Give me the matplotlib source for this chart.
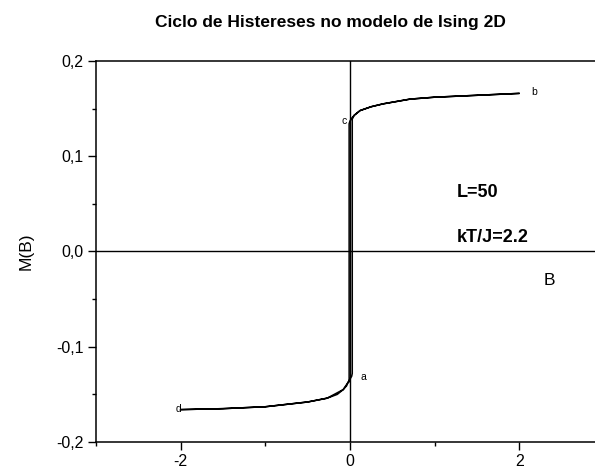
import matplotlib
matplotlib.use("Agg")
import matplotlib.pyplot as plt
from matplotlib.ticker import FuncFormatter, MultipleLocator

plt.rcParams['font.family'] = ['Liberation Sans', 'DejaVu Sans']

# campo aplicado B e magnetizacao M ao longo do ciclo d -> a -> c -> b -> c -> a -> d
B_ida = [-2.0, -1.5, -1.0, -0.8, -0.5, -0.27, -0.15, -0.08, -0.04, -0.02, 0.0, 0.02, 0.027, 0.027]
M_ida = [-0.166, -0.165, -0.163, -0.161, -0.158, -0.154, -0.150, -0.145, -0.141, -0.137, -0.134, -0.131, -0.128, 0.139]
B_sup = [0.027, 0.05, 0.12, 0.25, 0.39, 0.71, 1.0, 1.5, 2.0]
M_sup = [0.139, 0.143, 0.148, 0.152, 0.155, 0.160, 0.162, 0.164, 0.166]
B_volta = [2.0, 1.5, 1.0, 0.71, 0.39, 0.25, 0.12, 0.05, 0.02, 0.0, -0.01, -0.01]
M_volta = [0.166, 0.164, 0.162, 0.160, 0.155, 0.152, 0.148, 0.143, 0.140, 0.137, 0.134, -0.137]
B_inf = [-0.01, -0.02, -0.08, -0.27, -0.5, -0.8, -1.0, -1.5, -2.0]
M_inf = [-0.137, -0.137, -0.145, -0.154, -0.158, -0.161, -0.163, -0.165, -0.166]

pontos = ['a', 'b', 'c', 'd']
pontos_B = [0.13, 2.14, -0.04, -2.02]
pontos_M = [-0.132, 0.167, 0.137, -0.165]

fig = plt.figure(figsize=(5.95, 4.7), dpi=100)
ax = fig.add_axes([0.1613, 0.0596, 0.8538, 0.8106])

B = B_ida + B_sup + B_volta + B_inf
M = M_ida + M_sup + M_volta + M_inf
ax.plot(B, M, color='black', lw=1.1)

ax.axhline(0, color='black', lw=1.0)
ax.axvline(0, color='black', lw=1.0)

for p, x, y in zip(pontos, pontos_B, pontos_M):
    ha = 'right' if p == 'c' else 'left'
    if p == 'd':
        ha = 'center'
    ax.text(x, y, p, fontsize=7.5, ha=ha, va='center')

ax.text(1.26, 0.062, 'L=50', fontsize=13, fontweight='bold', ha='left', va='center')
ax.text(1.26, 0.015, 'kT/J=2.2', fontsize=13, fontweight='bold', ha='left', va='center')
ax.text(2.36, -0.03, 'B', fontsize=12.5, ha='center', va='center')

ax.set_xlim(-3, 3)
ax.set_ylim(-0.2, 0.2)
ax.xaxis.set_major_locator(MultipleLocator(2))
ax.xaxis.set_minor_locator(MultipleLocator(1))
ax.yaxis.set_major_locator(MultipleLocator(0.1))
ax.yaxis.set_minor_locator(MultipleLocator(0.05))
ax.yaxis.set_major_formatter(FuncFormatter(lambda v, pos: f'{v:.1f}'.replace('.', ',').replace('-0,0', '0,0')))
ax.xaxis.set_major_formatter(FuncFormatter(lambda v, pos: f'{v:.0f}'))
ax.tick_params(which='major', direction='out', length=6, width=1, labelsize=11.5, pad=3)
ax.tick_params(which='minor', direction='out', length=3, width=1)
for s in ax.spines.values():
    s.set_linewidth(1.1)

ax.set_ylabel('M(B)', fontsize=12.5, labelpad=16)
fig.text(0.556, 0.953, 'Ciclo de Histereses no modelo de Ising 2D', fontsize=12.5, fontweight='bold',
         ha='center', va='center')

fig.savefig('out.png', dpi=100)
